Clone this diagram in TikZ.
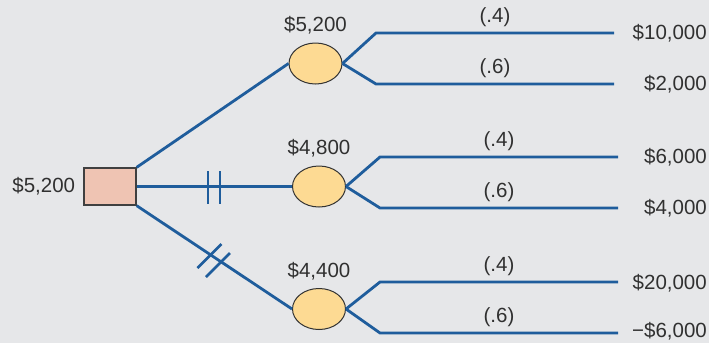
\documentclass[tikz,border=0pt]{standalone}
\usepackage{fontspec}
\setmainfont{Liberation Sans}
\usepackage{xcolor}
\usepackage{tikz}
\usetikzlibrary{shapes.geometric, arrows, positioning}

\definecolor{treeblue}{HTML}{1F5D9C}
\definecolor{chancefill}{HTML}{FDDA93}
\definecolor{decfill}{HTML}{EFC4B3}
\definecolor{bggray}{HTML}{E6E7E9}
\definecolor{txtgray}{HTML}{303030}

\begin{document}
\begin{tikzpicture}[x=1pt, y=-1pt, >=latex,
    branch/.style={draw=treeblue, line width=2.8pt},
    hashmark/.style={draw=treeblue, line width=2.6pt},
    decision/.style={draw=black!75, rectangle, fill=decfill, line width=1.3pt, minimum width=52pt, minimum height=37pt},
    chance/.style={draw=black!80, ellipse, fill=chancefill, line width=1pt, minimum width=53pt, minimum height=41pt, inner sep=0pt},
    lbl/.style={inner sep=0pt, text=txtgray, font=\fontsize{20.5}{24}\selectfont}]
    \fill [bggray] (0,0) rectangle (709,343);

    \node [decision] (dec) at (110,186.5) {};
    \node [lbl, left=8pt of dec] (decval) {\$5,200};

    \node [chance] (evA) at (315.5,63.5) {};
    \node [chance] (evB) at (319,186.5) {};
    \node [chance] (evC) at (319,309) {};
    \node [lbl, above=8pt of evA] (valA) {\$5,200};
    \node [lbl, above=8pt of evB] (valB) {\$4,800};
    \node [lbl, above=8pt of evC] (valC) {\$4,400};

    % line ends
    \coordinate (tipA1) at (614,33);
    \coordinate (tipA2) at (614,84);
    \coordinate (tipB1) at (618,157);
    \coordinate (tipB2) at (618,208);
    \coordinate (tipC1) at (618,282);
    \coordinate (tipC2) at (618,333);

    \node [lbl, anchor=east] (payA1) at (707,33) {\$10,000};
    \node [lbl, anchor=east] (payA2) at (707,84) {\$2,000};
    \node [lbl, anchor=east] (payB1) at (707,157) {\$6,000};
    \node [lbl, anchor=east] (payB2) at (707,208) {\$4,000};
    \node [lbl, anchor=east] (payC1) at (707,283) {\$20,000};
    \node [lbl, anchor=east] (payC2) at (707,331.5) {−\$6,000};

    \draw [branch] (dec.north east) -- (evA.west);
    \draw [branch] (dec.east) -- (evB.west);
    \draw [branch] (dec.south east) -- (evC.west);

    % blocked alternatives
    \draw [hashmark] (208,171) -- (208,204);
    \draw [hashmark] (220,171) -- (220,204);
    \draw [hashmark] (197.5,268) -- (221.5,244);
    \draw [hashmark] (206,277) -- (230,253);

    \draw [branch] (evA.east) -- ([xshift=-238pt]tipA1) -- (tipA1) node [lbl, midway, above=5pt] {(.4)};
    \draw [branch] (evA.east) -- ([xshift=-238pt]tipA2) -- (tipA2) node [lbl, midway, above=5pt] {(.6)};
    \draw [branch] (evB.east) -- ([xshift=-238pt]tipB1) -- (tipB1) node [lbl, midway, above=5pt] {(.4)};
    \draw [branch] (evB.east) -- ([xshift=-238pt]tipB2) -- (tipB2) node [lbl, midway, above=5pt] {(.6)};
    \draw [branch] (evC.east) -- ([xshift=-238pt]tipC1) -- (tipC1) node [lbl, midway, above=5pt] {(.4)};
    \draw [branch] (evC.east) -- ([xshift=-238pt]tipC2) -- (tipC2) node [lbl, midway, above=5pt] {(.6)};
\end{tikzpicture}
\end{document}
